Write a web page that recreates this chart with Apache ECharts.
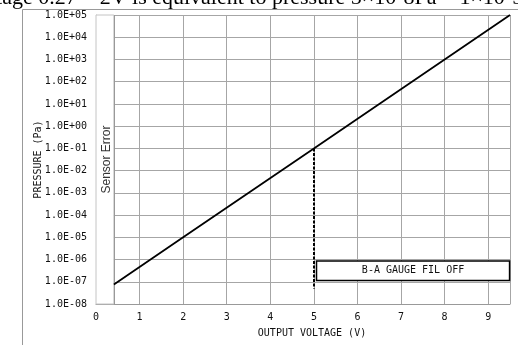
<!DOCTYPE html>
<html>
<head>
<meta charset="utf-8">
<script src="https://cdn.jsdelivr.net/npm/echarts@6/dist/echarts.min.js"></script>
<style>html,body{margin:0;padding:0;background:#fff}#c{width:518px;height:345px}</style>
</head>
<body>
<div id="c"></div>
<script>
// Data
const voltage = [0.41, 2, 5, 9.5];
const pressure = [7.5e-8, 1e-5, 1e-1, 1e5];
const dropVoltage = 5;
const dropPressure = [1e-1, 5e-8];
const sensorErrorRange = [0, 0.41];
const xTickValues = [0, 1, 2, 3, 4, 5, 6, 7, 8, 9];
const yExpRange = [-8, 5];
const headerText = 'voltage 0.27 ~ 2V is equivalent to pressure 5×10-8Pa ~ 1×10-5Pa';
const sensorLabel = 'Sensor Error';
const boxLabel = 'B-A GAUGE FIL OFF';
const xName = 'OUTPUT VOLTAGE (V)';
const yName = 'PRESSURE (Pa)';

const mono = '"DejaVu Sans Mono", monospace';
function fmtExp(v) {
  const e = Math.round(Math.log10(v));
  const s = e < 0 ? '-' : '+';
  const a = Math.abs(e);
  return '1.0E' + s + (a < 10 ? '0' : '') + a;
}

const chart = echarts.init(document.getElementById('c'), null, {renderer: 'canvas'});
chart.setOption({
  animation: false,
  backgroundColor: '#fff',
  grid: {left: 96, right: 8, top: 15, bottom: 41, show: false},
  graphic: [
    {type: 'rect', shape: {x: 22.5, y: 9.5, width: 700, height: 500}, style: {fill: 'none', stroke: '#999', lineWidth: 1}, z: -1},
    {type: 'text', x: -32, y: 9, style: {text: headerText, font: '22px "Liberation Serif", serif', fill: '#000', verticalAlign: 'bottom'}}
  ],
  xAxis: {
    type: 'value', min: 0, max: 9.5, interval: 1,
    axisLine: {show: true, lineStyle: {color: '#999'}},
    axisTick: {show: false},
    splitLine: {show: true, lineStyle: {color: '#a6a6a6', width: 1}},
    axisLabel: {color: '#111', fontFamily: mono, fontSize: 10, margin: 8, showMaxLabel: false,
      formatter: v => (xTickValues.indexOf(v) >= 0 ? String(v) : '')},
    name: xName, nameLocation: 'middle', nameGap: 24, nameMoveOverlap: false,
    nameTextStyle: {color: '#111', fontFamily: mono, fontSize: 10, padding: [0, 0, 0, 18]}
  },
  yAxis: {
    type: 'log', logBase: 10, min: Math.pow(10, yExpRange[0]), max: Math.pow(10, yExpRange[1]), interval: 1, splitNumber: 13,
    axisLine: {show: true, lineStyle: {color: '#c4c4c4'}},
    axisTick: {show: false},
    splitLine: {show: true, lineStyle: {color: '#a6a6a6', width: 1}},
    axisLabel: {color: '#111', fontFamily: mono, fontSize: 10, margin: 9, formatter: fmtExp},
    name: yName, nameLocation: 'middle', nameGap: 53, nameRotate: 90, nameMoveOverlap: false,
    nameTextStyle: {color: '#111', fontFamily: mono, fontSize: 10}
  },
  series: [
    {
      type: 'line', data: voltage.map((v, i) => [v, pressure[i]]),
      showSymbol: false, symbol: 'none',
      lineStyle: {color: '#000', width: 1.8}, z: 5,
      markArea: {
        silent: true,
        data: [
          [{xAxis: sensorErrorRange[0], yAxis: Math.pow(10, yExpRange[0]),
            itemStyle: {color: '#fff', borderColor: '#c4c4c4', borderWidth: 1},
            label: {show: true, position: 'inside', formatter: sensorLabel, rotate: 90, color: '#333',
              fontFamily: '"Liberation Sans", Arial, sans-serif', fontSize: 12, offset: [0, 2]}},
           {xAxis: sensorErrorRange[1], yAxis: Math.pow(10, yExpRange[1])}],
          [{xAxis: 5.06, yAxis: 8.5e-7,
            itemStyle: {color: '#fff', borderColor: '#000', borderWidth: 1.5},
            label: {show: true, position: 'inside', formatter: boxLabel, color: '#111', fontFamily: mono, fontSize: 10}},
           {xAxis: 9.49, yAxis: 1.15e-7}]
        ]
      },
      markLine: {
        silent: true, symbol: 'none', label: {show: false},
        data: [
          [{coord: [dropVoltage, dropPressure[0]], lineStyle: {color: '#000', width: 2, type: [3, 1.5]}},
           {coord: [dropVoltage, dropPressure[1]]}],
          [{coord: [sensorErrorRange[1], Math.pow(10, yExpRange[0])], lineStyle: {color: '#999', width: 1, type: 'solid'}},
           {coord: [sensorErrorRange[1], Math.pow(10, yExpRange[1])]}]
        ]
      }
    }
  ]
});
</script>
</body>
</html>
